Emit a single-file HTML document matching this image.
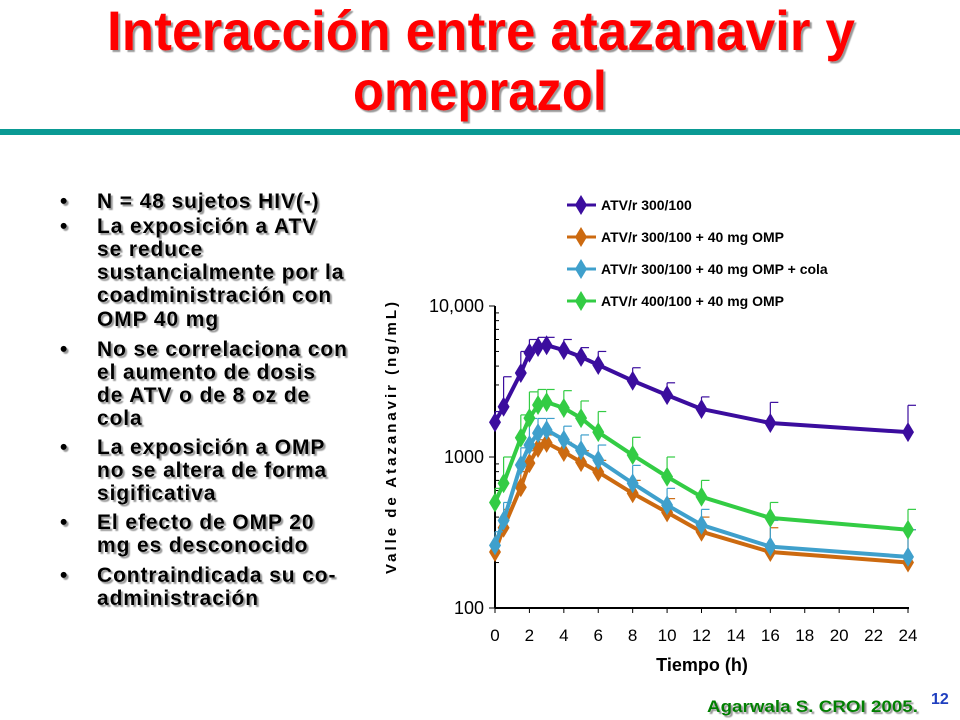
<!DOCTYPE html>
<html><head><meta charset="utf-8"><style>
body{margin:0;background:#fff;}
svg{display:block;font-family:"Liberation Sans",Arial,sans-serif;}
</style></head><body>
<svg id="s" width="960" height="720" viewBox="0 0 960 720">
<defs><filter id="sh" x="-5%" y="-5%" width="110%" height="120%"><feDropShadow dx="2" dy="2" stdDeviation="0.6" flood-color="#999"/></filter></defs>
<g fill="#ff0000" font-weight="bold" font-size="56" text-anchor="middle" filter="url(#sh)" font-family="'Liberation Sans Narrow','Liberation Sans',sans-serif">
<text x="481" y="50" textLength="748" lengthAdjust="spacingAndGlyphs">Interacción entre atazanavir y</text>
<text x="480" y="110" textLength="254" lengthAdjust="spacingAndGlyphs">omeprazol</text>
</g>
<rect x="0" y="129" width="960" height="6" fill="#0a9a94"/>
<g font-weight="bold" font-size="21" letter-spacing="0.9" fill="#000" filter="url(#sh)">
<text x="60" y="208">•</text><text x="97" y="208">N = 48 sujetos HIV(-)</text>
<text x="60" y="233">•</text><text x="97" y="233">La exposición a ATV</text>
<text x="97" y="256">se reduce</text>
<text x="97" y="279">sustancialmente por la</text>
<text x="97" y="302">coadministración con</text>
<text x="97" y="326">OMP 40 mg</text>
<text x="60" y="356">•</text><text x="97" y="356">No se correlaciona con</text>
<text x="97" y="379">el aumento de dosis</text>
<text x="97" y="402">de ATV o de 8 oz de</text>
<text x="97" y="425">cola</text>
<text x="60" y="454">•</text><text x="97" y="454">La exposición a OMP</text>
<text x="97" y="477">no se altera de forma</text>
<text x="97" y="500">sigificativa</text>
<text x="60" y="529">•</text><text x="97" y="529">El efecto de OMP 20</text>
<text x="97" y="552">mg es desconocido</text>
<text x="60" y="582">•</text><text x="97" y="582">Contraindicada su co-</text>
<text x="97" y="605">administración</text>
</g>
<g id="chart"></g>
<text x="707" y="712" font-size="17" font-weight="bold" fill="#008000" filter="url(#sh)" textLength="211" lengthAdjust="spacingAndGlyphs">Agarwala S. CROI 2005.</text>
<text x="931" y="704" font-size="16" font-weight="bold" fill="#1f3fbf">12</text>
</svg>
<script>
const times=[0,0.5,1.5,2,2.5,3,4,5,6,8,10,12,16,24];
const seriesNames=["ATV/r 300/100","ATV/r 300/100 + 40 mg OMP","ATV/r 300/100 + 40 mg OMP + cola","ATV/r 400/100 + 40 mg OMP"];
const seriesColors=["#3b0d9e","#cc6a10","#3fa0cc","#33cc44"];
const purpleValues=[1700,2150,3600,4900,5350,5500,5100,4600,4070,3200,2570,2080,1680,1460];
const orangeValues=[235,340,630,910,1150,1240,1080,925,795,575,430,320,235,200];
const blueValues=[260,380,885,1200,1440,1510,1300,1110,955,670,480,355,255,218];
const greenValues=[500,670,1340,1810,2210,2310,2110,1810,1460,1030,740,545,395,330];
const purpleUpper=[2000,3400,5000,6000,6200,6200,6000,5300,5000,3900,3100,2500,2300,2200];
const orangeUpper=[300,450,800,1100,1300,1400,1250,1100,950,700,530,400,340,330];
const blueUpper=[320,500,1150,1800,1800,1800,1600,1400,1200,880,620,450,380,330];
const greenUpper=[620,1000,1900,2700,2800,2800,2750,2350,2000,1350,1000,700,500,450];
const xTicks=[0,2,4,6,8,10,12,14,16,18,20,22,24];
const yTicks=[100,1000,10000];
const yTickLabels=["100","1000","10,000"];
const NS="http://www.w3.org/2000/svg";
const X0=495,X1=908,Y100=608,Y10k=306;
function xs(t){return X0+(t-0)/24*(X1-X0);}
function ys(v){return Y100-(Math.log10(v)-2)/2*(Y100-Y10k);}
const g=document.getElementById('chart');
function mk(tag,attrs,parent){const e=document.createElementNS(NS,tag);for(const k in attrs)e.setAttribute(k,attrs[k]);(parent||g).appendChild(e);return e;}
function diamond(x,y,c,parent){return mk('polygon',{points:`${x},${y-10} ${x+6},${y} ${x},${y+10} ${x-6},${y}`,fill:c},parent);}
const ax=mk('line',{x1:X0,y1:Y10k,x2:X0,y2:Y100,stroke:'#000','stroke-width':2});


const bx=mk('line',{x1:X0,y1:Y100,x2:X1+1,y2:Y100,stroke:'#000','stroke-width':2});


for(let d=2;d<4;d++){for(let m=1;m<10;m++){const v=m*Math.pow(10,d);const y=ys(v);
 const t=mk('line',{x1:X0-(m===1?6:0),y1:y,x2:X0+(m===1?0:4),y2:y,stroke:'#000','stroke-width':1});
 
 }}
mk('line',{x1:X0-6,y1:ys(10000),x2:X0,y2:ys(10000),stroke:'#000'});
yTicks.forEach((v,i)=>{const t=mk('text',{x:X0-11,y:ys(v)+6,'text-anchor':'end','font-size':18,fill:'#000'});t.textContent=yTickLabels[i];
 
 });
xTicks.forEach(v=>{mk('line',{x1:xs(v),y1:Y100,x2:xs(v),y2:Y100+5,stroke:'#000'});
 const t=mk('text',{x:xs(v),y:641,'text-anchor':'middle','font-size':17,fill:'#000'});t.textContent=v;
 
 });
const xt=mk('text',{x:702,y:671,'text-anchor':'middle','font-size':18,'font-weight':'bold'});xt.textContent='Tiempo (h)';


const yt=mk('text',{x:0,y:0,transform:'translate(396,438) rotate(-90)','text-anchor':'middle','font-size':15,'font-weight':'bold',textLength:272,lengthAdjust:'spacing'});yt.textContent='Valle de Atazanavir (ng/mL)';


const allVals=[purpleValues,orangeValues,blueValues,greenValues];
const allUp=[purpleUpper,orangeUpper,blueUpper,greenUpper];
[0,1,2,3].forEach(si=>{const c=seriesColors[si];const sg=mk('g',{});
 
 
 times.forEach((t,i)=>{const x=xs(t),y=ys(allVals[si][i]),yu=ys(allUp[si][i]);
  mk('line',{x1:x,y1:y,x2:x,y2:yu,stroke:c,'stroke-width':1.2},sg);
  mk('line',{x1:x,y1:yu,x2:x+8,y2:yu,stroke:c,'stroke-width':1.2},sg);});
 const pts=times.map((t,i)=>xs(t)+','+ys(allVals[si][i])).join(' ');
 const pl=mk('polyline',{points:pts,fill:'none',stroke:c,'stroke-width':4,'stroke-linejoin':'round'},sg);
 
 
 times.forEach((t,i)=>{const d=diamond(xs(t),ys(allVals[si][i]),c,sg);
  
  });
});
seriesNames.forEach((n,i)=>{const y=205+i*32;const lg=mk('g',{});
 
 
 mk('line',{x1:567,y1:y,x2:596,y2:y,stroke:seriesColors[i],'stroke-width':3},lg);
 diamond(581,y,seriesColors[i],lg);
 const t=mk('text',{x:601,y:y+5,'font-size':14,'font-weight':'bold'},lg);t.textContent=n;});
</script>
</body></html>
